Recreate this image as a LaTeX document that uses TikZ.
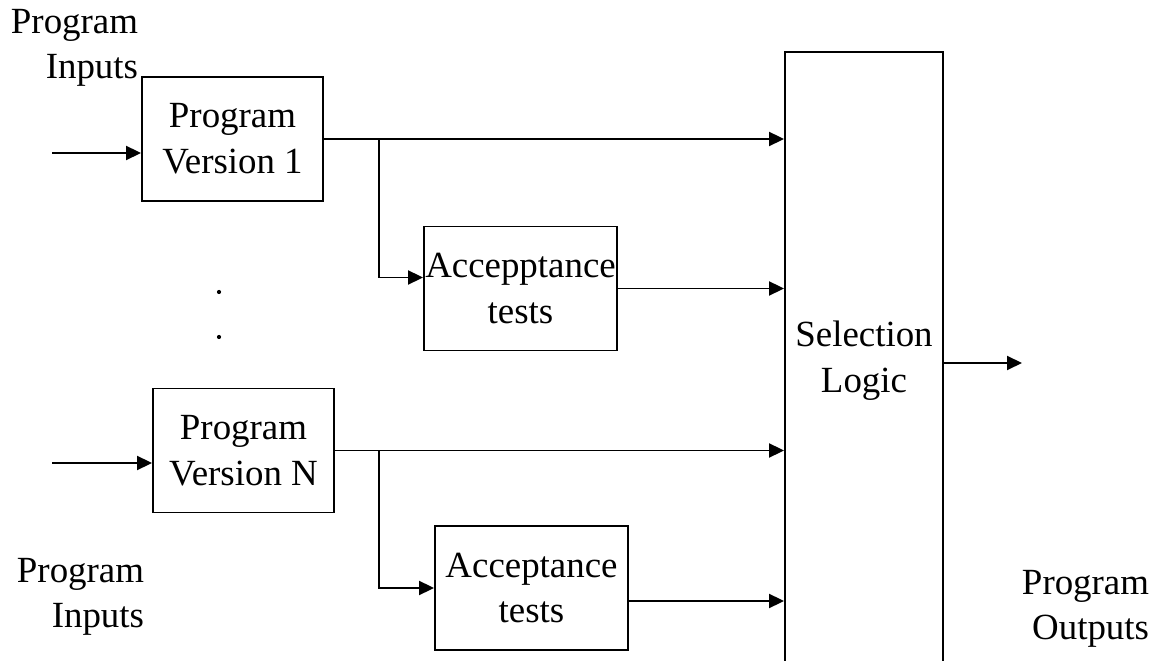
\documentclass[tikz,border=0pt]{standalone}
\usepackage{fontspec}
\setmainfont{Liberation Serif}
\usetikzlibrary{arrows.meta}

\begin{document}
\begin{tikzpicture}[x=0.02cm, y=-0.02cm, line width=1.1pt, >={Triangle[length=0.3cm, width=0.28cm]}]
\tikzstyle{every node} = [font=\fontsize{21}{26}\selectfont, align=center]
\tikzstyle{block} = [draw, inner sep=0pt, minimum height=2.48cm]
\tikzstyle{lbl} = [align=right, anchor=east, inner sep=0pt]

\clip (0,0) rectangle (1155,661);

\node[block, minimum width=3.62cm] (v1) at (232.5,139) {Program\\Version 1};
\node[block, minimum width=3.62cm] (vn) at (243.5,450.5) {Program\\Version N};
\node[block, minimum width=3.86cm] (acc1) at (520.5,288.5) {Accepptance\\tests};
\node[block, minimum width=3.86cm] (acc2) at (531.5,588) {Acceptance\\tests};
\node[block, minimum width=3.16cm, minimum height=12.36cm] (sel) at (864,361) {Selection\\Logic};

\node[lbl] (in1txt) at (139,48) {Program\\Inputs};
\node[lbl] (intxt) at (145,597) {Program\\Inputs};
\node[lbl] (outtxt) at (1150,609) {Program\\Outputs};

\coordinate (in1) at (52,153);
\coordinate (inn) at (52,463);
\coordinate (b1) at (379,139);
\coordinate (b2) at (379,450.5);
\coordinate (out) at (1022,363);

\draw[->] (in1) -- (in1 -| v1.west);
\draw[->] (inn) -- (inn -| vn.west);
\draw[->] (v1.east) -- (v1.east -| sel.west);
\draw[->] (vn.east) -- (vn.east -| sel.west);
\draw[->] (b1) |- ([yshift=0.22cm]acc1.west);
\draw[->] (b2) |- (acc2.west);
\draw[->] (acc1.east) -- (acc1.east -| sel.west);
\draw[->] ([yshift=-0.26cm]acc2.east) -- ([yshift=-0.26cm]acc2.east -| sel.west);
\draw[->] (sel.east |- out) -- (out);

% dots between the versions
\fill (219,292) circle (2.1);
\fill (219,337) circle (2.1);
\end{tikzpicture}
\end{document}
